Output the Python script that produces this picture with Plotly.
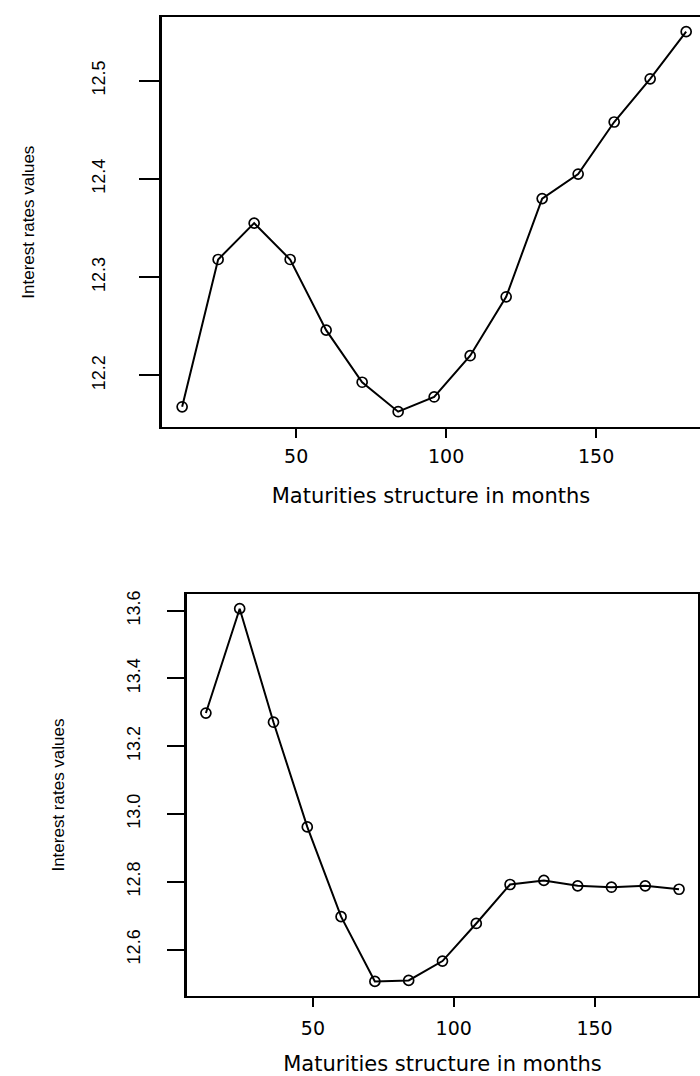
import plotly.graph_objects as go

# Maturities (months) shared by both term-structure curves
maturities = [12, 24, 36, 48, 60, 72, 84, 96, 108, 120, 132, 144, 156, 168, 180]

# Interest rate curves
rates_top = [12.168, 12.318, 12.355, 12.318, 12.246, 12.193, 12.163, 12.178,
             12.220, 12.280, 12.380, 12.405, 12.458, 12.502, 12.550]
rates_bottom = [13.298, 13.606, 13.271, 12.962, 12.697, 12.506, 12.509, 12.566,
                12.677, 12.792, 12.804, 12.788, 12.784, 12.788, 12.778]

x_ticks = [50, 100, 150]
y_ticks_top = [12.2, 12.3, 12.4, 12.5]
y_ticks_bottom = [12.6, 12.8, 13.0, 13.2, 13.4, 13.6]

x_title = "Maturities structure in months"
y_title = "Interest rates values"

line_style = dict(color="black", width=2)
marker_style = dict(symbol="circle-open", size=10, color="black",
                    line=dict(color="black", width=1.7))

fig = go.Figure()
fig.add_trace(go.Scatter(x=maturities, y=rates_top, mode="lines+markers",
                         line=line_style, marker=marker_style,
                         xaxis="x", yaxis="y", showlegend=False))
fig.add_trace(go.Scatter(x=maturities, y=rates_bottom, mode="lines+markers",
                         line=line_style, marker=marker_style,
                         xaxis="x2", yaxis="y2", showlegend=False))

tick_font_x = dict(family="DejaVu Sans", size=19, color="black")
tick_font_y = dict(family="Liberation Sans, Arial", size=18, color="black")
title_font_x = dict(family="DejaVu Sans", size=21, color="black")
title_font_y = dict(family="Liberation Sans, Arial", size=17, color="black")

common_x = dict(showgrid=False, zeroline=False, showline=True, linecolor="black",
                linewidth=2, ticks="outside", ticklen=9, tickwidth=2,
                tickcolor="black", tickvals=x_ticks, tickfont=tick_font_x)
common_y = dict(showgrid=False, zeroline=False, showline=True, linecolor="black",
                linewidth=2.5, ticks="outside", tickwidth=2, tickcolor="black",
                tickangle=-90, tickfont=tick_font_y, tickformat=".1f")

fig.update_layout(
    width=700, height=1076,
    margin=dict(l=0, r=0, t=0, b=0),
    paper_bgcolor="white", plot_bgcolor="white",
    xaxis=dict(common_x, domain=[0.2314, 1.0], range=[5.28, 184.61],
               anchor="y", mirror=True, ticklabelstandoff=2,
               title=dict(text=x_title, font=title_font_x, standoff=22)),
    yaxis=dict(common_y, domain=[0.6041, 0.9870], range=[12.147, 12.565],
               anchor="x", mirror=False, tickvals=y_ticks_top, ticklen=20,
               ticklabelstandoff=27,
               title=dict(text=y_title, font=title_font_y, standoff=51)),
    xaxis2=dict(common_x, domain=[0.2671, 0.9971], range=[5.28, 186.72],
                anchor="y2", mirror=True, ticklabelstandoff=5,
                title=dict(text=x_title, font=title_font_x, standoff=22)),
    yaxis2=dict(common_y, domain=[0.0734, 0.4489], range=[12.462, 13.650],
                anchor="x2", mirror=True, tickvals=y_ticks_bottom, ticklen=17,
                ticklabelstandoff=20,
                title=dict(text=y_title, font=title_font_y, standoff=56)),
)

fig.write_html("out.html")
